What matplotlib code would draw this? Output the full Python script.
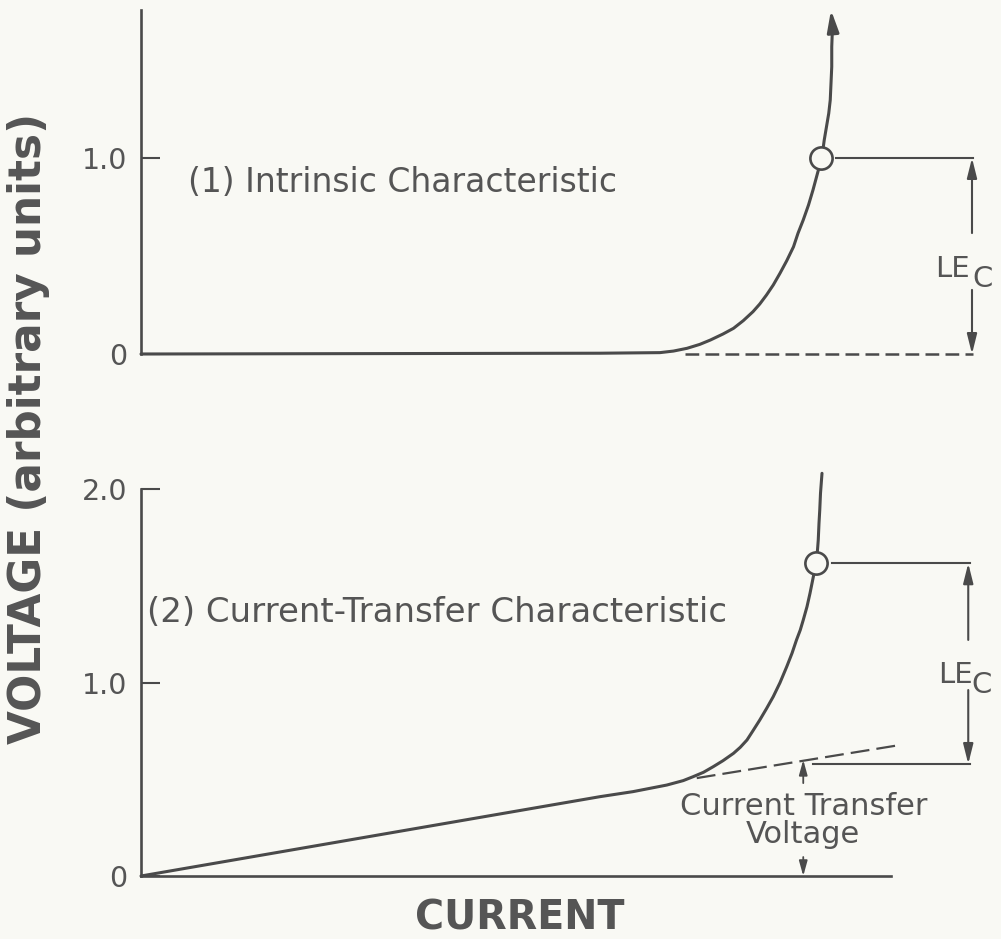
import matplotlib
matplotlib.use("Agg")
import matplotlib.pyplot as plt

plt.rcParams['font.family'] = ['DejaVu Sans']

INK = '#4a4a4a'
TXT = '#555555'
BG = '#f9f9f4'

# (1) intrinsic characteristic: current vs voltage
cur1 = [0.0, 6.12, 6.92, 7.10, 7.28, 7.45, 7.59, 7.76, 7.90, 8.03, 8.16, 8.25,
        8.34, 8.43, 8.52, 8.61, 8.70, 8.76, 8.83, 8.90, 8.96, 9.02, 9.08, 9.11,
        9.14, 9.17, 9.19, 9.20, 9.21, 9.21, 9.22]
volt1 = [0.0, 0.004, 0.007, 0.015, 0.029, 0.049, 0.071, 0.102, 0.131, 0.170,
         0.216, 0.255, 0.301, 0.352, 0.412, 0.476, 0.547, 0.616, 0.684, 0.760,
         0.837, 0.922, 1.007, 1.092, 1.160, 1.228, 1.296, 1.381, 1.466, 1.568,
         1.670]
tip1 = (9.20, 1.755)
crit1 = (9.07, 1.0)

# (2) current-transfer characteristic
cur2 = [0.0, 6.12, 6.56, 7.01, 7.23, 7.36, 7.50, 7.63, 7.76, 7.90, 7.99, 8.08,
        8.16, 8.25, 8.34, 8.43, 8.52, 8.61, 8.68, 8.74, 8.79, 8.83, 8.88, 8.92,
        8.96, 9.00, 9.02, 9.03, 9.04, 9.05, 9.06, 9.08]
volt2 = [0.0, 0.410, 0.436, 0.470, 0.493, 0.513, 0.536, 0.565, 0.596, 0.634,
         0.665, 0.703, 0.751, 0.806, 0.865, 0.927, 0.999, 1.082, 1.151, 1.220,
         1.271, 1.323, 1.392, 1.461, 1.538, 1.616, 1.685, 1.736, 1.823, 1.891,
         1.978, 2.081]
crit2 = (9.00, 1.616)
# extension of the linear part (dashed)
ext_cur = [7.41, 10.12]
ext_volt = [0.506, 0.677]
ctv = 0.579          # current transfer voltage level
ctv_x = 8.83

fig = plt.figure(figsize=(10.01, 9.39), dpi=100)
fig.patch.set_facecolor(BG)

xmax = 860 / 75
ax1 = fig.add_axes([141 / 1001, 1 - 380 / 939, 860 / 1001, 380 / 939])
ax2 = fig.add_axes([141 / 1001, 1 - 900 / 939, 860 / 1001, 460 / 939])
ax1.set_ylim(-26 / 196, 354 / 196)
ax2.set_ylim(-24 / 193.5, 436 / 193.5)

for ax in (ax1, ax2):
    ax.set_facecolor(BG)
    ax.set_xlim(0, xmax)
    ax.set_xticks([])
    for s in ('top', 'right'):
        ax.spines[s].set_visible(False)
    ax.spines['left'].set_color(INK)
    ax.spines['left'].set_linewidth(1.9)
    ax.tick_params(axis='y', direction='in', length=14, width=1.5, color=INK,
                   labelsize=20.5, labelcolor=TXT, pad=10)

ax1.spines['bottom'].set_visible(False)
ax1.spines['left'].set_bounds(0, 1.755)
ax1.set_yticks([0, 1.0])
ax1.set_yticklabels(['0', '1.0'])

ax2.spines['bottom'].set_color(INK)
ax2.spines['bottom'].set_linewidth(1.9)
ax2.spines['bottom'].set_position(('data', 0))
ax2.spines['bottom'].set_bounds(0, 10)
ax2.spines['left'].set_bounds(0, 2.0)
ax2.set_yticks([0, 1.0, 2.0])
ax2.set_yticklabels(['0', '1.0', '2.0'])


def arrow(ax, x0, y0, x1, y1, hl=1.2, hw=0.3, lw=1.5):
    ax.annotate('', xy=(x1, y1), xytext=(x0, y0),
                arrowprops=dict(arrowstyle='-|>,head_length=%g,head_width=%g' % (hl, hw),
                                color=INK, lw=lw, shrinkA=0, shrinkB=0),
                annotation_clip=False)


# --- panel 1 ---
ax1.plot(cur1, volt1, color=INK, lw=2.2, solid_capstyle='round',
         solid_joinstyle='round', clip_on=False)
arrow(ax1, cur1[-1], volt1[-1], tip1[0], tip1[1], hl=1.3, hw=0.35, lw=2.2)
ax1.plot([7.25, 11.09], [0, 0], color=INK, lw=1.8, dashes=(5.5, 2.5), clip_on=False)
ax1.plot([9.27, 11.09], [1.0, 1.0], color=INK, lw=1.5, clip_on=False)
ax1.plot([crit1[0]], [crit1[1]], 'o', ms=16, mfc=BG, mec=INK, mew=1.9, zorder=5,
         clip_on=False)
arrow(ax1, 11.08, 0.617, 11.08, 1.0)
arrow(ax1, 11.08, 0.327, 11.08, 0.0)
ax1.text(10.59, 0.393, 'LE', fontsize=21, color=TXT, va='baseline', ha='left')
ax1.text(11.09, 0.342, 'C', fontsize=21, color=TXT, va='baseline', ha='left')
ax1.text(0.63, 0.827, '(1) Intrinsic Characteristic', fontsize=23.8, color=TXT,
         va='baseline', ha='left')

# --- panel 2 ---
ax2.plot(cur2, volt2, color=INK, lw=2.2, solid_capstyle='round',
         solid_joinstyle='round', clip_on=False)
ax2.plot(ext_cur, ext_volt, color=INK, lw=1.6, dashes=(8.5, 3.2), clip_on=False)
ax2.plot([9.21, 11.05], [crit2[1], crit2[1]], color=INK, lw=1.5, clip_on=False)
ax2.plot([8.96, 11.05], [ctv, ctv], color=INK, lw=1.5, clip_on=False)
ax2.plot([crit2[0]], [crit2[1]], 'o', ms=16, mfc=BG, mec=INK, mew=1.9, zorder=5,
         clip_on=False)
arrow(ax2, 11.03, 1.22, 11.03, crit2[1])
arrow(ax2, 11.03, 0.961, 11.03, ctv)
ax2.text(10.63, 0.997, 'LE', fontsize=21, color=TXT, va='baseline', ha='left')
ax2.text(11.07, 0.946, 'C', fontsize=21, color=TXT, va='baseline', ha='left')
ax2.text(0.08, 1.313, '(2) Current-Transfer Characteristic', fontsize=24.5,
         color=TXT, va='baseline', ha='left')
arrow(ax2, ctv_x, 0.48, ctv_x, 0.60, hl=0.9, hw=0.25, lw=1.3)
arrow(ax2, ctv_x, 0.098, ctv_x, 0.0, hl=0.9, hw=0.25, lw=1.3)
ax2.text(ctv_x, 0.171, 'Current Transfer\nVoltage', fontsize=22, color=TXT,
         ha='center', va='baseline', multialignment='center', linespacing=0.95)

fig.text(519.5 / 1001, 1 - 930 / 939, 'CURRENT', fontsize=28.5, fontweight='bold',
         color=TXT, ha='center', va='baseline')
fig.text(29 / 1001, 1 - 428 / 939, 'VOLTAGE (arbitrary units)', fontsize=31.5,
         fontweight='bold', color=TXT, rotation=90, ha='center', va='center')

fig.savefig('out.png', dpi=100, facecolor=BG)
